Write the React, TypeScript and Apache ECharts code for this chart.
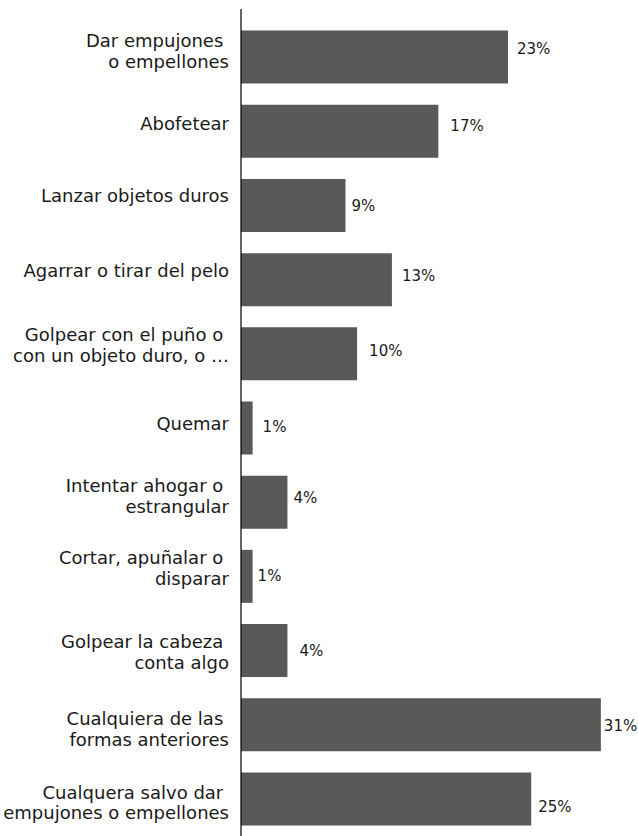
import React, { useEffect, useRef } from "react";
import * as echarts from "echarts";

const categories = [
  "Dar empujones \no empellones",
  "Abofetear",
  "Lanzar objetos duros",
  "Agarrar o tirar del pelo",
  "Golpear con el puño o \ncon un objeto duro, o …",
  "Quemar",
  "Intentar ahogar o \nestrangular",
  "Cortar, apuñalar o \ndisparar",
  "Golpear la cabeza \nconta algo",
  "Cualquiera de las \nformas anteriores",
  "Cualquera salvo dar \nempujones o empellones",
];

const values = [23, 17, 9, 13, 10, 1, 4, 1, 4, 31, 25];

// label nudges (dx, dy) in px, as in the original layout
const valueLabelNudge: [number, number][] = [
  [9, -8.5], [12, -5.5], [6, 1], [10, -3.5], [12, -2.5], [10, -1.5],
  [6, -4], [5, 0], [12, 0], [3, 1], [7, 8],
];
const categoryLabelNudge = [-6, -8, -10, -9, -9, -5, -6, -8.5, 1.5, 4.5, 3.5];

const FONT = "DejaVu Sans";
const TEXT = "#1a1a1a";

export default function App() {
  const ref = useRef<HTMLDivElement>(null);
  useEffect(() => {
    if (!ref.current) return;
    const chart = echarts.init(ref.current, undefined, { renderer: "svg" });
    chart.setOption({
      animation: false,
      backgroundColor: "#ffffff",
      grid: { left: 241, top: 20, width: 394.7, height: 821, containLabel: false },
      xAxis: {
        type: "value",
        min: 0,
        max: 34,
        show: false,
        splitLine: { show: false },
      },
      yAxis: {
        type: "category",
        inverse: true,
        data: categories,
        axisLine: { show: false },
        axisTick: { show: false },
        axisLabel: { show: false },
      },
      series: [
        {
          type: "bar",
          barWidth: 53,
          itemStyle: { color: "#595958" },
          data: values.map((v, i) => ({
            value: v,
            label: { offset: valueLabelNudge[i] },
          })),
          label: {
            show: true,
            position: "right",
            distance: 0,
            formatter: "{c}%",
            color: TEXT,
            fontFamily: FONT,
            fontSize: 15,
          },
          z: 2,
        },
        {
          type: "bar",
          barWidth: 53,
          barGap: "-100%",
          silent: true,
          itemStyle: { color: "transparent" },
          data: categories.map((c, i) => ({
            value: 0,
            label: { offset: [0, categoryLabelNudge[i]] },
          })),
          label: {
            show: true,
            position: "left",
            distance: 12,
            formatter: (p: any) => categories[p.dataIndex],
            color: TEXT,
            fontFamily: FONT,
            fontSize: 18,
            lineHeight: 20.5,
          },
          z: 1,
        },
      ],
      graphic: [
        {
          type: "line",
          shape: { x1: 241, y1: 9, x2: 241, y2: 836 },
          style: { stroke: "#000000", lineWidth: 1.2 },
          z: 100,
        },
      ],
    });
    return () => chart.dispose();
  }, []);
  return (
    <div
      ref={ref}
      style={{ position: "absolute", left: 0, top: 0, width: 638, height: 836 }}
    />
  );
}
